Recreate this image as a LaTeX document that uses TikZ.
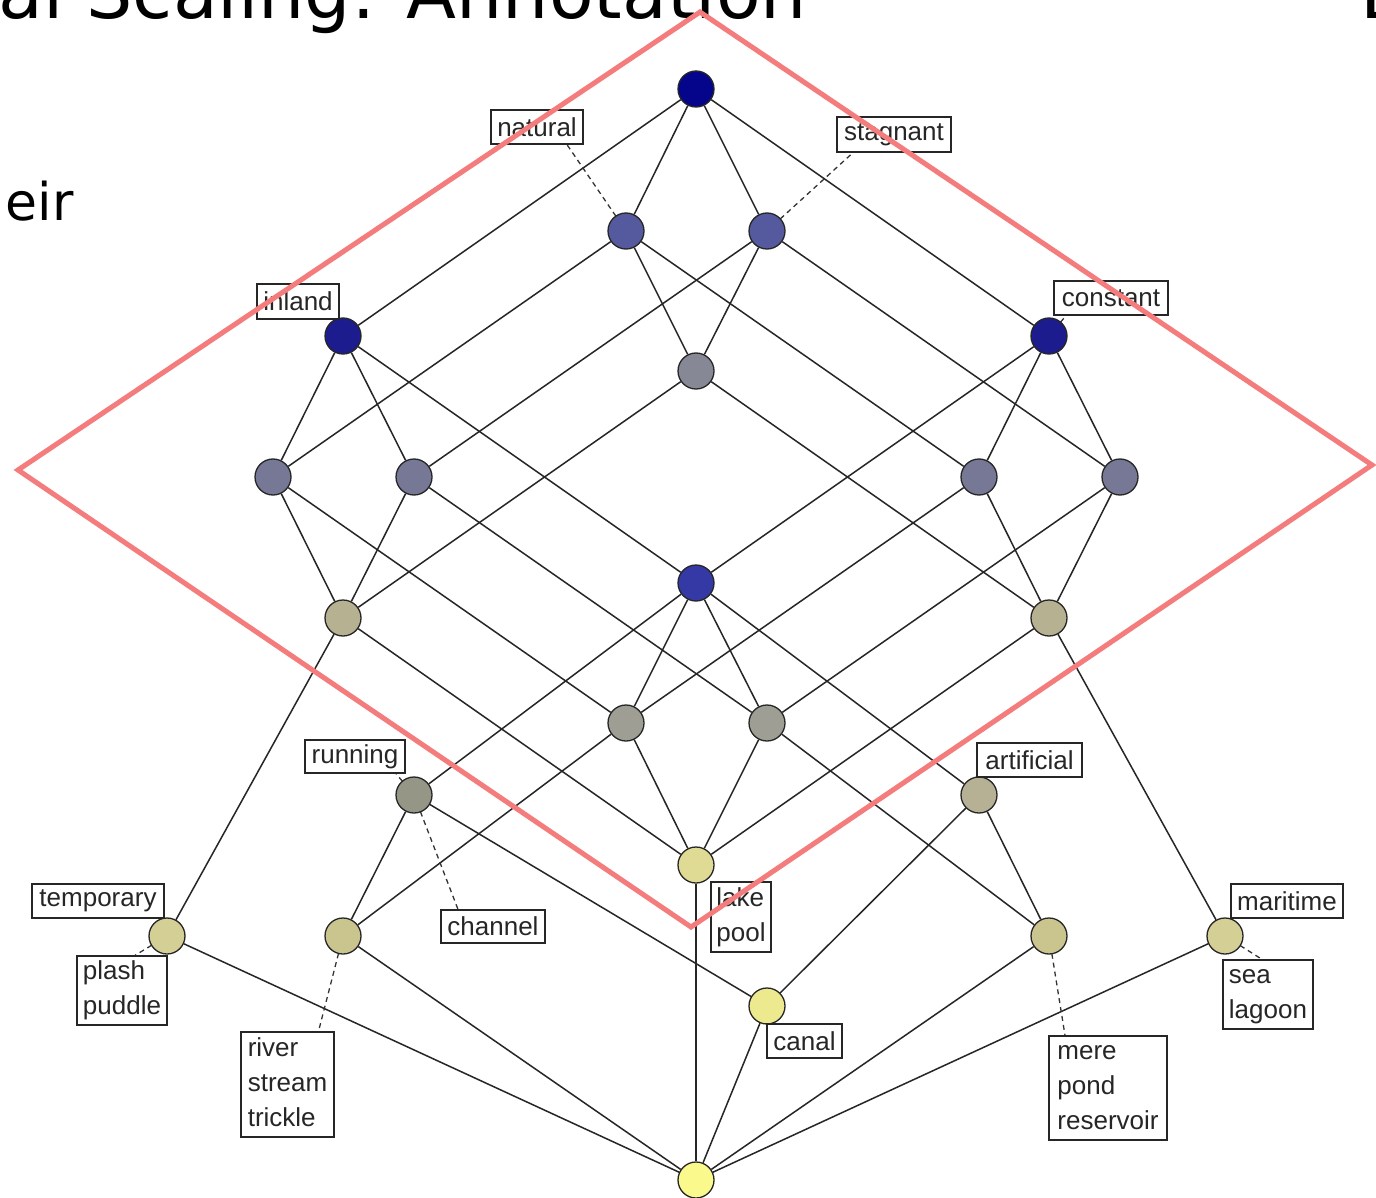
\documentclass[tikz,border=0pt]{standalone}
\usepackage{fontspec}
\setmainfont{Liberation Sans}
\newfontfamily\slidefont{DejaVu Sans}
\usetikzlibrary{calc,backgrounds}
% strut that gives every label line the same height and depth
\newcommand\lblstrut{\rule[-6pt]{0pt}{25pt}}
\definecolor{cTop}{RGB}{5,5,140}
\definecolor{cAttr}{RGB}{28,28,142}
\definecolor{cNS}{RGB}{85,89,158}
\definecolor{cMid}{RGB}{135,136,150}
\definecolor{cSide}{RGB}{118,120,150}
\definecolor{cX}{RGB}{52,57,165}
\definecolor{cPQ}{RGB}{182,178,145}
\definecolor{cUV}{RGB}{158,158,148}
\definecolor{cRun}{RGB}{150,150,135}
\definecolor{cArt}{RGB}{182,177,148}
\definecolor{cLake}{RGB}{224,219,148}
\definecolor{cLow}{RGB}{212,207,148}
\definecolor{cRiv}{RGB}{202,197,143}
\definecolor{cCanal}{RGB}{236,233,142}
\definecolor{cBot}{RGB}{250,250,140}
\definecolor{frameRed}{RGB}{244,124,124}
\begin{document}
\begin{tikzpicture}[x=1pt,y=-1pt,
  every node/.style={inner sep=0pt},
  edge/.style={draw=black!85, line width=1.5pt},
  pin/.style={draw=black!80, line width=1.3pt, dash pattern=on 5pt off 4pt},
  concept/.style={circle, draw=black!85, line width=1.3pt, minimum size=36pt},
  tag/.style={draw=black!85, line width=1.3pt, fill=white, align=left,
    text=black!85, font=\fontsize{26}{35}\selectfont},
  frame/.style={draw=frameRed, line width=5pt, line join=miter},
  slide/.style={text=black, inner sep=0pt}
]
\useasboundingbox (0,0) rectangle (1376,1198);
\clip (0,0) rectangle (1376,1198);

% lattice concepts
\node[concept, fill=cTop]   (top)   at (696,89)   {};
\node[concept, fill=cNS]    (nat)   at (626,231)  {};
\node[concept, fill=cNS]    (stag)  at (767,231)  {};
\node[concept, fill=cAttr]  (inl)   at (343,336)  {};
\node[concept, fill=cAttr]  (con)   at (1049,336) {};
\node[concept, fill=cMid]   (mid)   at (696,371)  {};
\node[concept, fill=cSide]  (l1)    at (273,477)  {};
\node[concept, fill=cSide]  (l2)    at (414,477)  {};
\node[concept, fill=cSide]  (r1)    at (979,477)  {};
\node[concept, fill=cSide]  (r2)    at (1120,477) {};
\node[concept, fill=cX]     (x)     at (696,583)  {};
\node[concept, fill=cPQ]    (p)     at (343,618)  {};
\node[concept, fill=cPQ]    (q)     at (1049,618) {};
\node[concept, fill=cUV]    (u)     at (626,723)  {};
\node[concept, fill=cUV]    (v)     at (767,723)  {};
\node[concept, fill=cRun]   (run)   at (414,795)  {};
\node[concept, fill=cArt]   (art)   at (979,795)  {};
\node[concept, fill=cLake]  (lake)  at (696,865)  {};
\node[concept, fill=cLow]   (temp)  at (167,936)  {};
\node[concept, fill=cRiv]   (riv)   at (343,936)  {};
\node[concept, fill=cRiv]   (mere)  at (1049,936) {};
\node[concept, fill=cLow]   (mari)  at (1225,936) {};
\node[concept, fill=cCanal] (canal) at (767,1006) {};
\node[concept, fill=cBot]   (bot)   at (696,1180) {};

% labels
\node[tag, minimum width=92pt,  minimum height=34pt]  (tNat)   at (537,127)    {natural};
\node[tag, minimum width=114pt, minimum height=35pt]  (tStag)  at (894,134.5)  {stagnant};
\node[tag, minimum width=82pt,  minimum height=35pt]  (tInl)   at (298,301.5)  {inland};
\node[tag, minimum width=114pt, minimum height=34pt]  (tCon)   at (1111,298)   {constant};
\node[tag, minimum width=100pt, minimum height=33pt]  (tRun)   at (355,756.5)  {running};
\node[tag, minimum width=105pt, minimum height=34pt]  (tArt)   at (1029.5,760) {artificial};
\node[tag, minimum width=104pt, minimum height=33pt]  (tChan)  at (493,926.5)  {channel};
\node[tag, minimum width=60pt,  minimum height=70pt]  (tLake)  at (741,917)    {lake\lblstrut\\pool\lblstrut};
\node[tag, minimum width=132pt, minimum height=34pt]  (tTemp)  at (98,901)     {temporary};
\node[tag, minimum width=90pt,  minimum height=69pt]  (tPlash) at (122,990.5)  {plash\lblstrut\\puddle\lblstrut};
\node[tag, minimum width=93pt,  minimum height=105pt] (tRiver) at (287.5,1084.5) {river\lblstrut\\stream\lblstrut\\trickle\lblstrut};
\node[tag, minimum width=75pt,  minimum height=34pt]  (tCanal) at (804.5,1041)  {canal};
\node[tag, minimum width=118pt, minimum height=104pt] (tMere)  at (1108,1088)   {mere\lblstrut\\pond\lblstrut\\reservoir\lblstrut};
\node[tag, minimum width=112pt, minimum height=34pt]  (tMari)  at (1287,901)    {maritime};
\node[tag, minimum width=90pt,  minimum height=69pt]  (tSea)   at (1268,994.5)  {sea\lblstrut\\lagoon\lblstrut};

\begin{scope}[on background layer]
  \fill[white] (0,0) rectangle (1376,1198);
  % covering relation
  \draw[edge] (top) -- (inl);  \draw[edge] (top) -- (nat);
  \draw[edge] (top) -- (stag); \draw[edge] (top) -- (con);
  \draw[edge] (nat) -- (l1);   \draw[edge] (nat) -- (mid);  \draw[edge] (nat) -- (r1);
  \draw[edge] (stag) -- (l2);  \draw[edge] (stag) -- (mid); \draw[edge] (stag) -- (r2);
  \draw[edge] (inl) -- (l1);   \draw[edge] (inl) -- (l2);   \draw[edge] (inl) -- (x);
  \draw[edge] (con) -- (r1);   \draw[edge] (con) -- (r2);   \draw[edge] (con) -- (x);
  \draw[edge] (mid) -- (p);    \draw[edge] (mid) -- (q);
  \draw[edge] (l1) -- (p);     \draw[edge] (l2) -- (p);
  \draw[edge] (r1) -- (q);     \draw[edge] (r2) -- (q);
  \draw[edge] (l1) -- (u);     \draw[edge] (r1) -- (u);
  \draw[edge] (l2) -- (v);     \draw[edge] (r2) -- (v);
  \draw[edge] (x) -- (u);      \draw[edge] (x) -- (v);
  \draw[edge] (x) -- (run);    \draw[edge] (x) -- (art);
  \draw[edge] (p) -- (lake);   \draw[edge] (q) -- (lake);
  \draw[edge] (u) -- (lake);   \draw[edge] (v) -- (lake);
  \draw[edge] (p) -- (temp);   \draw[edge] (q) -- (mari);
  \draw[edge] (u) -- (riv);    \draw[edge] (v) -- (mere);
  \draw[edge] (run) -- (riv);  \draw[edge] (run) -- (canal);
  \draw[edge] (art) -- (mere); \draw[edge] (art) -- (canal);
  \draw[edge] (temp) -- (bot); \draw[edge] (riv) -- (bot);
  \draw[edge] (lake) -- (bot); \draw[edge] (canal) -- (bot);
  \draw[edge] (mere) -- (bot); \draw[edge] (mari) -- (bot);
  % label pins
  \draw[pin] (nat.center)  -- ($(tNat.south)+(30,0)$);
  \draw[pin] (stag.center) -- ($(tStag.south)+(-41,0)$);
  \draw[pin] (con.center)  -- ($(tCon.south)+(-45,0)$);
  \draw[pin] (run.center)  -- ($(tRun.south)+(41,0)$);
  \draw[pin] (run.center)  -- ($(tChan.north)+(-35,0)$);
  \draw[pin] (temp.center) -- ($(tPlash.north)+(13,0)$);
  \draw[pin] (riv.center)  -- ($(tRiver.north)+(31,0)$);
  \draw[pin] (mere.center) -- ($(tMere.north)+(-43,0)$);
  \draw[pin] (mari.center) -- ($(tSea.north)+(-6,0)$);
\end{scope}

% slide text around the diagram
\node[slide, anchor=base east, font=\slidefont\fontsize{73}{80}\selectfont] (title) at (807,19) {al Scaling: Annotation};
\node[slide, anchor=base west, font=\slidefont\fontsize{73}{80}\selectfont] (corner) at (1360,19) {L};
\node[slide, anchor=base east, font=\slidefont\fontsize{52}{60}\selectfont] (body) at (74,221) {eir};

% highlight frame
\coordinate (fT) at (700,12);
\coordinate (fR) at (1372,465);
\coordinate (fB) at (691,927);
\coordinate (fL) at (18,470);
\draw[frame] (fT) -- (fR) -- (fB) -- (fL) -- cycle;
\end{tikzpicture}
\end{document}
